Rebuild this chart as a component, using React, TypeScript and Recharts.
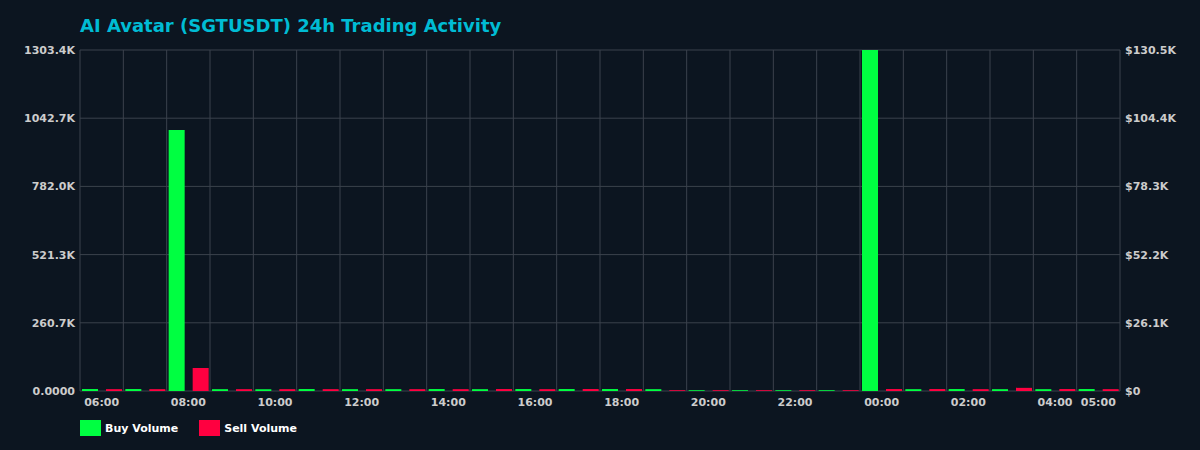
import { ComposedChart, Bar, Line, XAxis, YAxis, CartesianGrid } from 'recharts';

const hours = [
  '06:00', '07:00', '08:00', '09:00', '10:00', '11:00', '12:00', '13:00',
  '14:00', '15:00', '16:00', '17:00', '18:00', '19:00', '20:00', '21:00',
  '22:00', '23:00', '00:00', '01:00', '02:00', '03:00', '04:00', '05:00',
];

const buyVolume = [
  7500, 7500, 998000, 7000, 7000, 7500, 7000, 7000,
  7500, 7000, 7500, 7500, 7500, 7000, 3000, 3000,
  3000, 3000, 1303360, 7000, 7500, 7000, 7000, 7500,
];

const sellVolume = [
  7000, 7000, 88000, 7000, 7000, 7000, 7000, 7000,
  7000, 7500, 7000, 7500, 7500, 3000, 3000, 3000,
  3000, 3000, 7500, 7500, 7000, 12000, 7500, 7000,
];

const shownHours = [
  '06:00', '08:00', '10:00', '12:00', '14:00', '16:00', '18:00',
  '20:00', '22:00', '00:00', '02:00', '04:00', '05:00',
];

const volumeTicks = [0, 260672, 521344, 782016, 1042688, 1303360];
const usdTicks = [0, 26100, 52200, 78300, 104400, 130500];

const BUY = '#00ff41';
const SELL = '#ff0040';
const BG = '#0c1520';
const GRID = '#3b424c';
const FONT = '"DejaVu Sans", sans-serif';

const data = hours.map((hour, i) => ({
  hour,
  buy: buyVolume[i],
  sell: sellVolume[i],
}));

const tickStyle = { fill: '#cccccc', fontSize: 11, fontWeight: 'bold', fontFamily: FONT };

const fmtVolume = (v: number) => (v === 0 ? '0.0000' : (v / 1000).toFixed(1) + 'K');
const fmtUsd = (v: number) => (v === 0 ? '$0' : '$' + (v / 1000).toFixed(1) + 'K');

export default function App() {
  return (
    <div
      style={{
        position: 'absolute',
        left: 0,
        top: 0,
        width: 1200,
        height: 450,
        background: BG,
        fontFamily: FONT,
        overflow: 'hidden',
      }}
    >
      <div
        style={{
          position: 'absolute',
          left: 80,
          top: 15,
          fontSize: 18,
          lineHeight: '21px',
          fontWeight: 'bold',
          color: '#00bcd4',
          whiteSpace: 'nowrap',
        }}
      >
        AI Avatar (SGTUSDT) 24h Trading Activity
      </div>

      <ComposedChart
        width={1200}
        height={450}
        data={data}
        margin={{ top: 50, right: 0, bottom: 29, left: 0 }}
        barCategoryGap={2}
        barGap={8}
      >
        <CartesianGrid
          stroke={GRID}
          yAxisId="left"
          verticalCoordinatesGenerator={({ offset }: any) =>
            Array.from({ length: hours.length + 1 }, (_, i) => offset.left + (i * offset.width) / hours.length)
          }
        />
        <XAxis
          dataKey="hour"
          interval={0}
          height={30}
          axisLine={false}
          tickLine={false}
          tickSize={0}
          tickMargin={7}
          tick={tickStyle}
          tickFormatter={(v: string) => (shownHours.includes(v) ? v : '')}
        />
        <YAxis
          yAxisId="left"
          width={80}
          domain={[0, volumeTicks[volumeTicks.length - 1]]}
          ticks={volumeTicks}
          axisLine={false}
          tickLine={false}
          tickSize={0}
          tickMargin={5}
          tick={tickStyle}
          tickFormatter={fmtVolume}
        />
        <YAxis
          yAxisId="right"
          orientation="right"
          width={80}
          domain={[0, usdTicks[usdTicks.length - 1]]}
          ticks={usdTicks}
          allowDataOverflow
          axisLine={false}
          tickLine={false}
          tickSize={0}
          tickMargin={5}
          tick={tickStyle}
          tickFormatter={fmtUsd}
        />
        <Bar yAxisId="left" dataKey="buy" name="Buy Volume" fill={BUY} isAnimationActive={false} />
        <Bar yAxisId="left" dataKey="sell" name="Sell Volume" fill={SELL} isAnimationActive={false} />
        {/* the USD axis carries no visible series; an unstroked line keeps it attached so it renders */}
        <Line
          yAxisId="right"
          dataKey="sell"
          stroke="none"
          dot={false}
          activeDot={false}
          legendType="none"
          isAnimationActive={false}
        />
      </ComposedChart>

      <div
        style={{
          position: 'absolute',
          left: 80,
          top: 420,
          display: 'flex',
          alignItems: 'center',
          fontSize: 11,
          fontWeight: 'bold',
          color: '#ffffff',
        }}
      >
        {[
          { label: 'Buy Volume', color: BUY },
          { label: 'Sell Volume', color: SELL },
        ].map((item) => (
          <div key={item.label} style={{ display: 'flex', alignItems: 'center', marginRight: 21 }}>
            <span style={{ display: 'inline-block', width: 21, height: 16, background: item.color, marginRight: 4 }} />
            <span>{item.label}</span>
          </div>
        ))}
      </div>
    </div>
  );
}
